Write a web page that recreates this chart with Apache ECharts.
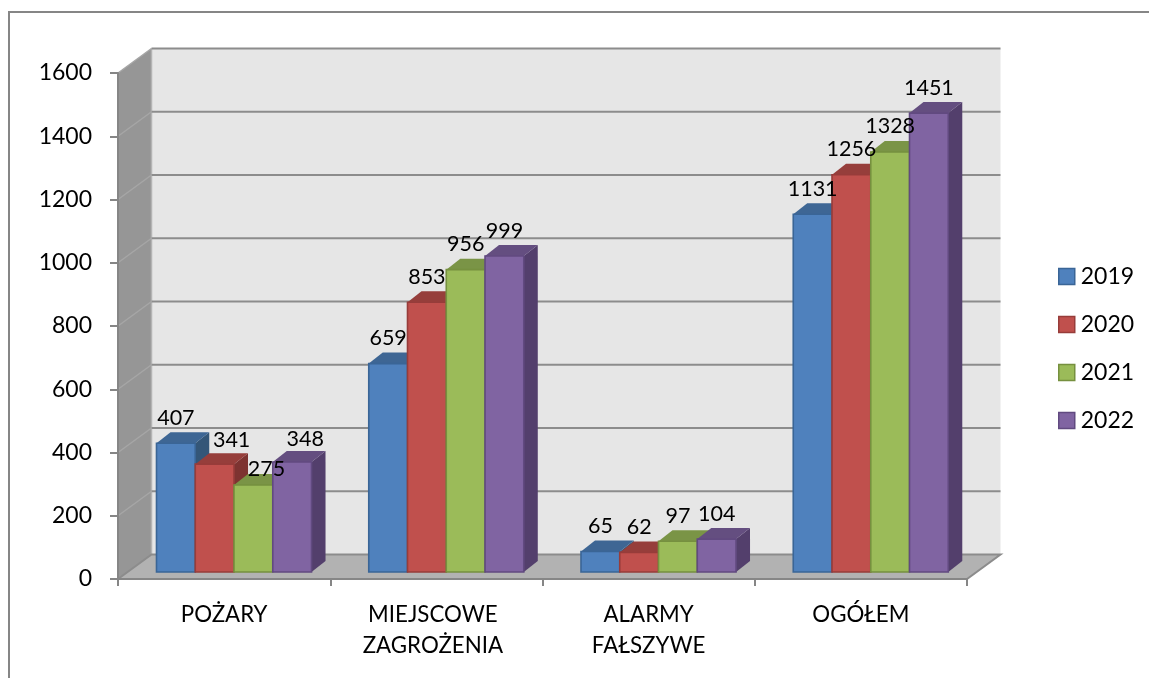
<!DOCTYPE html>
<html><head><meta charset="utf-8">
<script src="https://cdn.jsdelivr.net/npm/echarts@6/dist/echarts.min.js"></script>
<style>html,body{margin:0;padding:0;background:#fff}#c{width:1149px;height:678px}</style>
</head><body><div id="c"></div>
<script>
const categories = ['POŻARY', 'MIEJSCOWE\nZAGROŻENIA', 'ALARMY\nFAŁSZYWE', 'OGÓŁEM'];
const y2019 = [407, 659, 65, 1131];
const y2020 = [341, 853, 62, 1256];
const y2021 = [275, 956, 97, 1328];
const y2022 = [348, 999, 104, 1451];
const yearNames = ['2019', '2020', '2021', '2022'];
const yTicks = [0, 200, 400, 600, 800, 1000, 1200, 1400, 1600];

const yearValues = [y2019, y2020, y2021, y2022];
const faceColors = ['#4F81BD', '#C0504D', '#9BBB59', '#8064A2'];
const edgeColors = ['#3A6596', '#973C3A', '#76903F', '#614A80'];
const topColors  = ['#3E6694', '#963E3B', '#7A9446', '#644E80'];
const sideColors = ['#345678', '#7D3331', '#667B3A', '#533F6C'];
const FONT = 'Lato, "Open Sans", sans-serif';
const WALL = {dx: 33.5, dy: -24.5};
const DEPTH = {dx: 14, dy: -11};
const BAR_OFFSET = {dx: 38.5, dy: -7};   // front of first bar, from category start
const labelNudge = {'0_1': [17, 1], '0_2': [13, 10], '0_3': [13, 3]};

const chart = echarts.init(document.getElementById('c'), null, {renderer: 'canvas'});

function renderWalls(params, api) {
  const cs = params.coordSys;
  const x0 = cs.x, x1 = cs.x + cs.width, yT = cs.y, yB = cs.y + cs.height;
  const y = api.coord([0, api.value(1)])[1];
  const line = {stroke: '#8C8C8C', lineWidth: 2};
  const children = [];
  if (params.dataIndex === 0) {
    children.push({type: 'polygon', shape: {points: [[x0 + WALL.dx, yT + WALL.dy], [x1 + WALL.dx, yT + WALL.dy], [x1 + WALL.dx, yB + WALL.dy], [x0 + WALL.dx, yB + WALL.dy]]}, style: {fill: '#E6E6E6'}});
    children.push({type: 'polygon', shape: {points: [[x0, yT], [x0 + WALL.dx, yT + WALL.dy], [x0 + WALL.dx, yB + WALL.dy], [x0, yB]]}, style: {fill: '#969696'}});
    children.push({type: 'polygon', shape: {points: [[x0, yB], [x0 + WALL.dx, yB + WALL.dy], [x1 + WALL.dx, yB + WALL.dy], [x1, yB]]}, style: {fill: '#B2B2B2', stroke: '#8C8C8C', lineWidth: 2}, z2: 3});
    children.push({type: 'line', shape: {x1: x0 + WALL.dx, y1: yT + WALL.dy, x2: x0 + WALL.dx, y2: yB + WALL.dy}, style: {stroke: '#B4B4B4', lineWidth: 1.5}, z2: 2});
  } else {
    children.push({type: 'line', shape: {x1: x0 + WALL.dx, y1: y + WALL.dy, x2: x1 + WALL.dx, y2: y + WALL.dy}, style: line, z2: 2});
    children.push({type: 'line', shape: {x1: x0, y1: y, x2: x0 + WALL.dx, y2: y + WALL.dy}, style: {stroke: '#A6A6A6', lineWidth: 1.5}, z2: 2});
  }
  return {type: 'group', children};
}

function renderBar(s) {
  return function (params, api) {
    const cat = api.value(0), val = api.value(1);
    const band = api.size([1, 0])[0];
    const w = band * 0.1826;
    const center = api.coord([cat, 0])[0];
    const left = center - band / 2 + BAR_OFFSET.dx + s * w;
    const yB = api.coord([cat, 0])[1] + BAR_OFFSET.dy;
    const yT = api.coord([cat, val])[1] + BAR_OFFSET.dy;
    const d = DEPTH;
    const nudge = labelNudge[cat + '_' + s] || [0, 0];
    const zb = 10 + s * 2;
    return {type: 'group', children: [
      {type: 'polygon', z2: zb, shape: {points: [[left + w, yT], [left + w + d.dx, yT + d.dy], [left + w + d.dx, yB + d.dy], [left + w, yB]]}, style: {fill: sideColors[s]}},
      {type: 'polygon', z2: zb, shape: {points: [[left, yT], [left + d.dx, yT + d.dy], [left + w + d.dx, yT + d.dy], [left + w, yT]]}, style: {fill: topColors[s]}},
      {type: 'rect', z2: zb + 1, shape: {x: left, y: yT, width: w, height: yB - yT}, style: {fill: faceColors[s], stroke: edgeColors[s], lineWidth: 1.6}},
      {type: 'text', z2: 100, style: {text: String(val), x: left + w / 2 + nudge[0], y: yT - 25.5 + nudge[1], fill: '#000', font: '21.5px ' + FONT, align: 'center', verticalAlign: 'middle'}}
    ]};
  };
}

const barSeries = yearNames.map((name, s) => ({
  type: 'custom', name, z: 3, clip: false, silent: true,
  renderItem: renderBar(s),
  encode: {x: 0, y: 1},
  itemStyle: {color: faceColors[s]},
  data: yearValues[s].map((v, i) => [i, v])
}));

chart.setOption({
  animation: false,
  backgroundColor: '#fff',
  tooltip: {show: false},
  graphic: [{type: 'rect', silent: true, z: -1, shape: {x: 9, y: 12, width: 1300, height: 800}, style: {fill: 'transparent', stroke: '#868686', lineWidth: 2}}],
  grid: {left: 118, top: 73, right: 182, bottom: 99, containLabel: false},
  legend: {
    orient: 'vertical', left: 1053, top: 258.5, itemWidth: 16, itemHeight: 16, itemGap: 22,
    icon: 'rect', selectedMode: false,
    data: yearNames.map((name, s) => ({name, itemStyle: {color: faceColors[s], borderColor: edgeColors[s], borderWidth: 1.5}})),
    textStyle: {fontFamily: FONT, fontSize: 23, color: '#000', padding: [0, 0, 0, 1], lineHeight: 26}
  },
  xAxis: {
    type: 'category', data: categories, boundaryGap: true, z: 5,
    axisLine: {show: true, lineStyle: {color: '#868686', width: 2}},
    axisTick: {show: true, length: 7, alignWithLabel: false, lineStyle: {color: '#868686', width: 2}},
    axisLabel: {
      fontFamily: FONT, fontSize: 22.3, color: '#000', margin: 20, lineHeight: 31, interval: 0,
      formatter: (v, i) => i === 1 ? v.split('\n').map(t => '{shift|' + t + '}').join('\n') : v,
      rich: {shift: {fontFamily: FONT, fontSize: 22.3, color: '#000', lineHeight: 31, padding: [0, 7, 0, 0]}}
    },
    splitLine: {show: false}
  },
  yAxis: {
    type: 'value', min: 0, max: 1600, interval: 200, z: 5,
    axisLine: {show: true, lineStyle: {color: '#868686', width: 2}},
    axisTick: {show: true, length: 8, lineStyle: {color: '#868686', width: 2}},
    axisLabel: {fontFamily: FONT, fontSize: 23, color: '#000', margin: 26, formatter: v => String(v), padding: [3, 0, 0, 0]},
    splitLine: {show: false}
  },
  series: [{
    type: 'custom', name: 'walls', z: 1, clip: false, silent: true,
    renderItem: renderWalls, encode: {x: 0, y: 1},
    data: yTicks.map(v => [0, v])
  }].concat(barSeries)
});
</script></body></html>
